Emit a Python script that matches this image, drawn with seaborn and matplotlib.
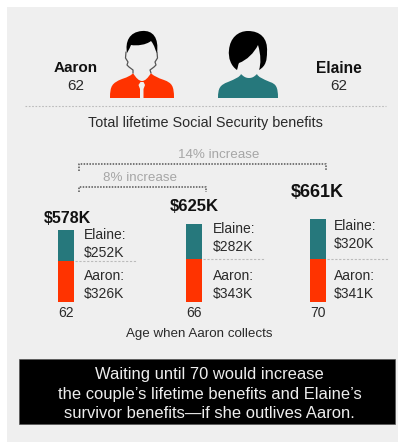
import matplotlib
matplotlib.use("Agg")
import matplotlib.pyplot as plt
import pandas as pd
import seaborn as sns
from matplotlib.patches import PathPatch, Rectangle
from matplotlib.path import Path

ages = ["62", "66", "70"]
aaron = [326, 343, 341]
elaine = [252, 282, 320]
totals = ["$578K", "$625K", "$661K"]

W, H = 398, 443
PANEL = "#efefef"
RED = "#ff3300"
TEAL = "#26787c"
INK = "#2a2a2a"
GREY = "#a6a6a6"

sns.set_theme(style="white")
plt.rcParams["font.family"] = ["Liberation Sans", "DejaVu Sans"]

fig = plt.figure(figsize=(W / 100, H / 100), dpi=100, facecolor="white")

# Page layer in pixel coordinates, y running downward.
page = fig.add_axes([0, 0, 1, 1])
page.set_xlim(0, W)
page.set_ylim(H, 0)
page.axis("off")
page.add_patch(Rectangle((7, 7), 391, 435, fc=PANEL, ec="none"))


def shape(points, color, zorder=3):
    """Fill a closed polygon given as pixel vertices."""
    page.fill(*zip(*points), fc=color, ec="none", lw=0, zorder=zorder)


def curve(verts, color, zorder=3):
    """Fill a closed path made of cubic segments: start point, then triples."""
    codes = [Path.MOVETO] + [Path.CURVE4] * (len(verts) - 1)
    page.add_patch(PathPatch(Path(verts, codes), fc=color, ec="none", lw=0, zorder=zorder))


# Man: shoulders, tie, jaw outline, hair
curve([(110, 98), (110, 86), (112, 83), (122, 79),
       (128, 77), (132, 75), (133, 73),
       (136, 78), (139, 81), (142, 81),
       (145, 81), (148, 78), (151, 73),
       (152, 75), (158, 78), (164, 80),
       (172, 83), (174, 86), (174, 98),
       (150, 98), (130, 98), (110, 98)], RED)
shape([(140.5, 82), (143.5, 82), (145, 85), (143.5, 89), (143.5, 98),
       (140, 98), (140, 89), (138.5, 85)], PANEL, zorder=4)
for side in [[(126, 52), (125.5, 58), (128, 62), (127, 65), (129, 67), (133, 70), (133, 73)],
             [(157, 52), (157.5, 58), (155, 62), (156, 65), (154, 67), (150, 70), (151, 73)]]:
    page.plot(*zip(*side), color="#555555", lw=0.9, zorder=5)
curve([(127, 53), (125, 42), (129, 32), (142, 31),
       (153, 30), (159, 38), (157, 53),
       (155, 50), (155, 46), (151, 41),
       (146, 45), (137, 46), (131, 45),
       (130, 47), (129, 50), (127, 53)], "black", zorder=5)

# Woman: shoulders, hair
curve([(218, 98), (218, 88), (220, 85), (228, 82),
       (235, 79), (240, 77), (241, 74),
       (244, 77), (246, 78), (249, 78),
       (252, 78), (254, 77), (257, 74),
       (258, 77), (263, 79), (270, 82),
       (276, 84), (278, 87), (278, 98),
       (258, 98), (238, 98), (218, 98)], TEAL)
curve([(237, 70), (231, 66), (228, 58), (229, 50),
       (230, 38), (238, 31), (248, 31),
       (260, 31), (268, 38), (267, 52),
       (267, 60), (266, 66), (259, 70),
       (261, 64), (261, 55), (258, 45),
       (254, 53), (247, 60), (239, 63),
       (238, 65), (238, 67), (237, 70)], "black", zorder=5)

# Names and ages
page.text(76, 68, "Aaron", ha="center", va="center", fontsize=11, fontweight="bold", color="#111111")
page.text(76, 86, "62", ha="center", va="center", fontsize=11, color=INK)
page.text(339, 68, "Elaine", ha="center", va="center", fontsize=11.2, fontweight="bold", color="#111111")
page.text(339, 86, "62", ha="center", va="center", fontsize=11, color=INK)

page.plot([25, 386], [106, 106], color="#bbbbbb", lw=0.8, ls=(0, (1.5, 1.5)))
page.text(205.5, 123, "Total lifetime Social Security benefits", ha="center", va="center",
          fontsize=10.4, color=INK)

# Percentage brackets
for left, right, y, foot, label, lx in [(79, 326, 164, 171, "14% increase", 219),
                                        (79, 206, 187, 192, "8% increase", 140)]:
    page.plot([left, left, right, right], [foot, y, y, foot], color="#555555", lw=1.1, ls=(0, (1, 0.9)))
    page.text(lx, y - 9, label, ha="center", va="center", fontsize=9.6, color=GREY)

# Stacked bars on their own axes, baseline at the bottom edge.
BASE_PX, TOP_PX = 302, 202
PX_PER_K = 0.125
bars = fig.add_axes([0, 1 - BASE_PX / H, 1, (BASE_PX - TOP_PX) / H])
bars.patch.set_alpha(0)
centers = [66, 194, 318]
frame = pd.DataFrame({
    "center": centers,
    "aaron": aaron,
    "total": [a + e for a, e in zip(aaron, elaine)],
})
bar_width = 16 / 124
sns.barplot(data=frame, x="center", y="total", native_scale=True, color=TEAL,
            saturation=1, width=bar_width, linewidth=0, ax=bars, zorder=2)
sns.barplot(data=frame, x="center", y="aaron", native_scale=True, color=RED,
            saturation=1, width=bar_width, linewidth=0, ax=bars, zorder=3)
bars.set_xlim(0, W)
bars.set_ylim(0, (BASE_PX - TOP_PX) / PX_PER_K)
bars.set_xticks(centers, ages)
bars.set_yticks([])
bars.tick_params(axis="x", length=0, pad=3, labelsize=10, labelcolor=INK)
bars.set_ylabel("")
bars.set_xlabel("Age when Aaron collects", fontsize=9.6, color=INK, labelpad=6)
sns.despine(ax=bars, left=True, bottom=True)

# Dotted rule level with each stack's split
for c, a in zip(centers, aaron):
    bars.plot([c + 9, c + 71], [a, a], color="#bbbbbb", lw=0.8, ls=(0, (2, 1.5)), zorder=1)

# Totals and share labels
total_pos = [(67, 218), (194, 206), (317, 192)]
total_size = [11.5, 12, 13]
label_x = [84, 213, 334]
elaine_y = [244, 238, 235]
aaron_y = [285, 285, 285]
for (tx, ty), fs, total, lx, ey, ay, e, a in zip(total_pos, total_size, totals, label_x,
                                                  elaine_y, aaron_y, elaine, aaron):
    page.text(tx, ty, total, ha="center", va="center", fontsize=fs, fontweight="bold", color="#111111")
    page.text(lx, ey, f"Elaine:\n${e}K", ha="left", va="center", fontsize=10,
              color=INK, linespacing=1.29)
    page.text(lx, ay, f"Aaron:\n${a}K", ha="left", va="center", fontsize=10,
              color=INK, linespacing=1.29)

# Takeaway box
page.add_patch(Rectangle((19, 359), 376, 65, fc="black", ec="#555555", lw=0.5))
page.text(209.5, 394, "Waiting until 70 would increase\nthe couple\u2019s lifetime benefits and Elaine\u2019s\nsurvivor benefits\u2014if she outlives Aaron.",
          ha="center", va="center", fontsize=11.9, color="#eeeeee", linespacing=1.34)

fig.savefig("out.png", dpi=100)
